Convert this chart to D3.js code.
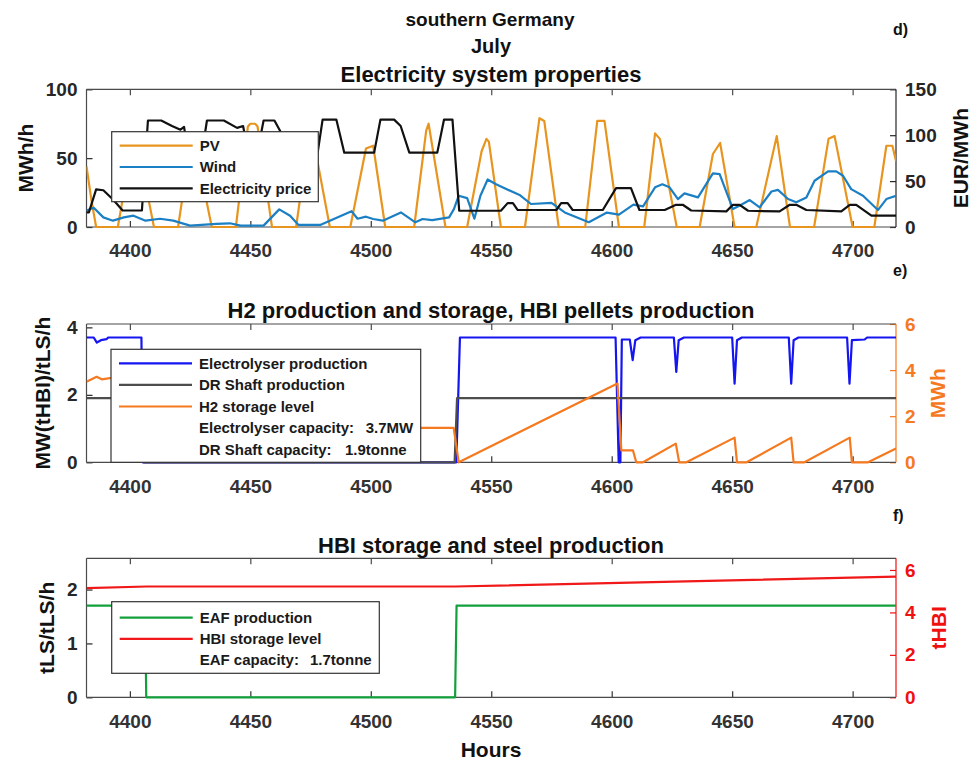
<!DOCTYPE html>
<html>
<head>
<meta charset="utf-8">
<title>southern Germany - July</title>
<script src="https://d3js.org/d3.v7.min.js"></script>
<style>
  body { margin: 0; background: #ffffff; }
  svg text { font-family: "Liberation Sans", Arial, Helvetica, sans-serif; font-weight: bold; }
</style>
</head>
<body>
<svg id="chart" width="979" height="762"></svg>
<script>

// ---- data: [hour, value] ----
const hourRange = [4382, 4718];
const xTickValues = [4400, 4450, 4500, 4550, 4600, 4650, 4700];

// panel d) electricity system (MWh/h left, EUR/MWh right)
const pvSeries = [
  [4382,44],[4384,20],[4386,0],
  [4395,0],[4401,60],[4403,62],[4410,0],
  [4420,0],[4425,58],[4427,60],[4434,0],
  [4444,0],[4449,73],[4450,75],[4452,75],[4453,73],[4459,0],
  [4469,0],[4474,63],[4476,65],[4483,0],
  [4491.5,0],[4498,57],[4501,59],[4506,0],
  [4518,0],[4523,70],[4524,75],[4531,0],
  [4540,0],[4546,55],[4548,64],[4549,62],[4554,0],
  [4564,0],[4570,79],[4572,77],[4578,0],
  [4589,0],[4594,77],[4597,77],[4603,0],
  [4613.5,0],[4618,68],[4620,64],[4627,0],
  [4636.5,0],[4642,53],[4645,61],[4651,0],
  [4660,0],[4668.5,66],[4674,0],
  [4684,0],[4690,64],[4692.5,66],[4700,0],
  [4709,0],[4714,59],[4716.5,59],[4718,48]
];
const windSeries = [
  [4382,12],[4385,14],[4389,7],[4393,4.6],[4397.5,7],[4401.5,8.2],[4406.5,4.6],
  [4412.5,6],[4418,4.6],[4425,1],[4436,2.2],[4441.5,2.7],[4446,1],[4455.5,1],
  [4462,12.8],[4466.5,8.2],[4470,1.5],[4479,1.5],[4492,11.5],[4494.5,6],[4498,7.5],
  [4501,5.8],[4505,4.6],[4512.5,10.6],[4518.5,3.4],[4521.5,5.8],[4525.5,5],[4532.5,7],
  [4534.5,13],[4536.5,22.7],[4540,21],[4543,6],[4545.5,22.7],[4548.5,34.5],[4552,31],
  [4562,23],[4566.5,16.7],[4575,17.5],[4580.5,10.6],[4590.5,3.5],[4598,10.5],[4603,9],
  [4609,16.2],[4613,15],[4618,28.8],[4621,31],[4624,28.8],[4627.5,20.3],[4630.2,24.4],
  [4635.8,21.5],[4642,38.9],[4644.8,38.4],[4650.3,13],[4653,15.4],[4657.3,19.6],
  [4661.4,14.3],[4666.3,25.8],[4669,27],[4673.2,20.3],[4676.6,17.9],[4680.8,21.5],
  [4684.2,33.6],[4689.8,40.4],[4693.2,40.4],[4696,37.2],[4699.4,27.5],[4704.3,22.7],
  [4710.5,12.3],[4714,20.3],[4718,22.7]
];
const priceSeries = [
  [4382,16],[4383,16],[4386,41],[4389,40],[4393,30],[4397,18],[4405,18],
  [4407.5,116],[4413,116],[4417.5,110],[4421,106],[4422.5,109],[4424,82],[4430,82],
  [4432,116],[4439,116],[4444.5,108],[4447,110],[4449,82],[4453,82],[4455.5,116],
  [4460,116],[4462.5,104],[4464,82],[4478,82],[4480,117],[4485.7,117],[4489,81],
  [4501.4,81],[4504,117],[4509.7,117],[4512.4,110],[4516,81],[4527.6,81],[4530.4,117],
  [4533.9,117],[4536.7,17.7],[4554,17.7],[4556.8,26],[4559,26],[4561,18.5],[4577,18.5],
  [4579,26],[4581.7,26],[4583.8,18.5],[4596.3,18.5],[4601.8,42.4],[4608,42.4],
  [4611.5,18.5],[4622,18.5],[4626.7,24.2],[4629.5,24.2],[4633,18],[4647.6,17],
  [4650.3,24.2],[4653.1,24.2],[4656.6,17.7],[4669.7,17],[4673.9,24.2],[4676.6,24.2],
  [4680.8,18.5],[4695.3,17],[4698.8,24.2],[4701.5,24.2],[4707.8,12.3],[4718,12.3]
];

// panel e) H2 production and storage
const electrolyserSeries = [
  [4382,3.7],[4385,3.7],[4386.3,3.55],[4388,3.62],[4390.3,3.65],[4391,3.7],[4404.8,3.7],
  [4405.3,0],[4535.5,0],[4537,3.7],[4601.6,3.7],[4602.9,0],[4603.6,0],[4604.2,3.64],
  [4607.5,3.64],[4608.7,3.03],[4609.8,3.62],[4612,3.7],
  [4625.8,3.7],[4626.8,2.68],[4627.8,3.62],[4630,3.7],
  [4650,3.7],[4651,2.33],[4652,3.62],[4654,3.7],
  [4673.5,3.7],[4674.5,2.33],[4675.5,3.62],[4677.5,3.7],
  [4697.7,3.7],[4698.7,2.33],[4699.7,3.62],[4705,3.64],[4706,3.7],[4718,3.7]
];
const drShaftSeries = [
  [4382,1.9],[4405.3,1.9],[4405.8,0],[4534.8,0],[4535.8,1.9],[4718,1.9]
];
const h2StorageSeries = [
  [4382,3.49],[4386.2,3.71],[4388.3,3.6],[4391.7,3.65],[4405,3.65],[4407,1.49],
  [4534.4,1.49],[4536.5,0],[4602.4,3.42],[4604,0.52],[4608.8,0.52],[4610.2,0],
  [4613,0],[4626.6,0.81],[4628,0],[4631,0],[4651,1.07],[4652,0],[4656,0],
  [4674.5,1.07],[4675.5,0],[4680,0],[4698.8,1.07],[4699.7,0],[4706.4,0],[4718,0.6]
];

// panel f) HBI storage and steel production
const eafSeries = [
  [4382,1.7],[4406.3,1.7],[4406.8,0],[4535,0],[4535.6,1.7],[4718,1.7]
];
const hbiStorageSeries = [
  [4382,5.14],[4407,5.22],[4535,5.22],[4718,5.69]
];

// tick values
const mwhTicks = [0, 50, 100];
const eurTicks = [0, 50, 100, 150];
const h2LeftTicks = [0, 2, 4];
const h2RightTicks = [0, 2, 4, 6];
const steelLeftTicks = [0, 1, 2];
const steelRightTicks = [0, 2, 4, 6];

// ---- drawing ----
const FONT = '"Liberation Sans", Arial, Helvetica, sans-serif';
const axisGray = "#4a4a4a";
const svg = d3.select("#chart");

const x = d3.scaleLinear().domain(hourRange).range([86.5, 896]);

function styleAxis(sel, color) {
  sel.attr("font-family", FONT)
    .attr("font-size", 19)
    .attr("font-weight", "bold")
    .style("color", color);
  sel.select(".domain").remove();
  sel.selectAll(".tick line").attr("stroke-width", 1.2);
}

function drawPanel(p) {
  const g = svg.append("g");
  const yL = d3.scaleLinear().domain(p.leftDomain).range([p.bottom, p.top]);
  const yR = d3.scaleLinear().domain(p.rightDomain).range([p.bottom, p.top]);

  const clipId = "clip" + p.id;
  g.append("clipPath").attr("id", clipId)
    .append("rect")
    .attr("x", x.range()[0]).attr("y", p.top - 2)
    .attr("width", x.range()[1] - x.range()[0])
    .attr("height", p.bottom - p.top + 4);

  // x ticks bottom (with labels) and top (marks only), pointing inward
  g.append("g")
    .attr("transform", `translate(0,${p.bottom})`)
    .call(d3.axisBottom(x).tickValues(xTickValues).tickSize(-6).tickPadding(17).tickFormat(d3.format("d")))
    .call(s => styleAxis(s, "#333333"));
  g.append("g")
    .attr("transform", `translate(0,${p.top})`)
    .call(d3.axisTop(x).tickValues(xTickValues).tickSize(-6).tickFormat(""))
    .call(s => styleAxis(s, axisGray));

  // y axes
  g.append("g")
    .attr("transform", `translate(${x.range()[0]},0)`)
    .call(d3.axisLeft(yL).tickValues(p.leftTicks).tickSize(-6).tickPadding(9).tickFormat(d3.format("~g")))
    .call(s => styleAxis(s, "#262626"));
  g.append("g")
    .attr("transform", `translate(${x.range()[1]},0)`)
    .call(d3.axisRight(yR).tickValues(p.rightTicks).tickSize(-6).tickPadding(9).tickFormat(d3.format("~g")))
    .call(s => styleAxis(s, p.rightColor));

  // box
  g.append("line").attr("x1", x.range()[0]).attr("x2", x.range()[1])
    .attr("y1", p.top).attr("y2", p.top).attr("stroke", axisGray).attr("stroke-width", 1.2);
  g.append("line").attr("x1", x.range()[0]).attr("x2", x.range()[1])
    .attr("y1", p.bottom).attr("y2", p.bottom).attr("stroke", axisGray).attr("stroke-width", 1.2);
  g.append("line").attr("x1", x.range()[0]).attr("x2", x.range()[0])
    .attr("y1", p.top).attr("y2", p.bottom).attr("stroke", axisGray).attr("stroke-width", 1.2);
  g.append("line").attr("x1", x.range()[1]).attr("x2", x.range()[1])
    .attr("y1", p.top).attr("y2", p.bottom).attr("stroke", p.rightColor).attr("stroke-width", 1.2);

  // data lines
  const plot = g.append("g").attr("clip-path", `url(#${clipId})`);
  p.series.forEach(s => {
    const y = s.axis === "R" ? yR : yL;
    plot.append("path")
      .datum(s.data)
      .attr("fill", "none")
      .attr("stroke", s.color)
      .attr("stroke-width", 2.2)
      .attr("stroke-linejoin", "round")
      .attr("d", d3.line().x(d => x(d[0])).y(d => y(d[1])));
  });

  // title
  g.append("text").attr("x", 491).attr("y", p.titleY)
    .attr("text-anchor", "middle").attr("font-size", 22).attr("fill", "#111")
    .text(p.title);

  // axis labels
  g.append("text")
    .attr("transform", `translate(${p.leftLabelX},${(p.top + p.bottom) / 2}) rotate(-90)`)
    .attr("text-anchor", "middle").attr("dy", "0.35em")
    .attr("font-size", 21).attr("fill", "#111")
    .text(p.leftLabel);
  g.append("text")
    .attr("transform", `translate(${p.rightLabelX},${(p.top + p.bottom) / 2}) rotate(-90)`)
    .attr("text-anchor", "middle").attr("dy", "0.35em")
    .attr("font-size", 21).attr("fill", p.rightLabelColor)
    .text(p.rightLabel);

  // panel letter
  g.append("text").attr("x", 893).attr("y", p.letterY)
    .attr("font-size", 16).attr("fill", "#111").text(p.letter);

  // legend
  const L = p.legend;
  const lg = g.append("g");
  lg.append("rect")
    .attr("x", L.x).attr("y", L.y).attr("width", L.w).attr("height", L.h)
    .attr("fill", "#fff").attr("stroke", "#333").attr("stroke-width", 1.2);
  L.items.forEach((it, i) => {
    const cy = L.y + L.firstY + i * L.step;
    if (it.color) {
      lg.append("line")
        .attr("x1", L.x + 8).attr("x2", L.x + 81)
        .attr("y1", cy).attr("y2", cy)
        .attr("stroke", it.color).attr("stroke-width", 2.2);
    }
    const t = lg.append("text")
      .attr("x", L.x + 88).attr("y", cy).attr("dy", "0.35em")
      .attr("font-size", 15).attr("fill", "#1a1a1a");
    t.append("tspan").text(it.label);
    if (it.value) {
      t.append("tspan").attr("x", it.valueX).text(it.value);
    }
  });
}

// page titles
svg.append("text").attr("x", 490).attr("y", 26).attr("text-anchor", "middle")
  .attr("font-size", 19).attr("fill", "#111").text("southern Germany");
svg.append("text").attr("x", 491).attr("y", 53).attr("text-anchor", "middle")
  .attr("font-size", 20).attr("fill", "#111").text("July");

drawPanel({
  id: "d", top: 89.3, bottom: 227,
  leftDomain: [0, 100], rightDomain: [0, 150],
  leftTicks: mwhTicks, rightTicks: eurTicks,
  rightColor: "#262626",
  title: "Electricity system properties", titleY: 82,
  leftLabel: "MWh/h", leftLabelX: 26,
  rightLabel: "EUR/MWh", rightLabelX: 961, rightLabelColor: "#111",
  letter: "d)", letterY: 35,
  series: [
    { data: pvSeries, axis: "L", color: "#E8951F" },
    { data: windSeries, axis: "L", color: "#1B7FC4" },
    { data: priceSeries, axis: "R", color: "#111111" }
  ],
  legend: {
    x: 111.7, y: 131.7, w: 206.6, h: 70, firstY: 14, step: 21.3,
    items: [
      { label: "PV", color: "#E8951F" },
      { label: "Wind", color: "#1B7FC4" },
      { label: "Electricity price", color: "#111111" }
    ]
  }
});

drawPanel({
  id: "e", top: 324, bottom: 462.3,
  leftDomain: [0, 4.1], rightDomain: [0, 6],
  leftTicks: h2LeftTicks, rightTicks: h2RightTicks,
  rightColor: "#F5791F",
  title: "H2 production and storage, HBI pellets production", titleY: 318,
  leftLabel: "MW(tHBI)/tLS/h", leftLabelX: 43,
  rightLabel: "MWh", rightLabelX: 938, rightLabelColor: "#F5791F",
  letter: "e)", letterY: 276,
  series: [
    { data: electrolyserSeries, axis: "L", color: "#1515F0" },
    { data: drShaftSeries, axis: "L", color: "#4D4D4D" },
    { data: h2StorageSeries, axis: "R", color: "#F5791F" }
  ],
  legend: {
    x: 111, y: 349.3, w: 309.7, h: 113, firstY: 14, step: 21.6,
    items: [
      { label: "Electrolyser production", color: "#1515F0" },
      { label: "DR Shaft production", color: "#4D4D4D" },
      { label: "H2 storage level", color: "#F5791F" },
      { label: "Electrolyser capacity:", value: "3.7MW", valueX: 365.7 },
      { label: "DR Shaft capacity:", value: "1.9tonne", valueX: 345 }
    ]
  }
});

drawPanel({
  id: "f", top: 558.3, bottom: 697.3,
  leftDomain: [0, 2.58], rightDomain: [0, 6.55],
  leftTicks: steelLeftTicks, rightTicks: steelRightTicks,
  rightColor: "#F01010",
  title: "HBI storage and steel production", titleY: 553,
  leftLabel: "tLS/tLS/h", leftLabelX: 47,
  rightLabel: "tHBI", rightLabelX: 939, rightLabelColor: "#F01010",
  letter: "f)", letterY: 521,
  series: [
    { data: eafSeries, axis: "L", color: "#13A03C" },
    { data: hbiStorageSeries, axis: "R", color: "#F01818" }
  ],
  legend: {
    x: 111.7, y: 601.7, w: 267.6, h: 71.6, firstY: 16, step: 21.2,
    items: [
      { label: "EAF production", color: "#13A03C" },
      { label: "HBI storage level", color: "#F01818" },
      { label: "EAF capacity:", value: "1.7tonne", valueX: 310 }
    ]
  }
});

// x axis label
svg.append("text").attr("x", 491).attr("y", 757).attr("text-anchor", "middle")
  .attr("font-size", 21).attr("fill", "#111").text("Hours");

</script>
</body>
</html>
